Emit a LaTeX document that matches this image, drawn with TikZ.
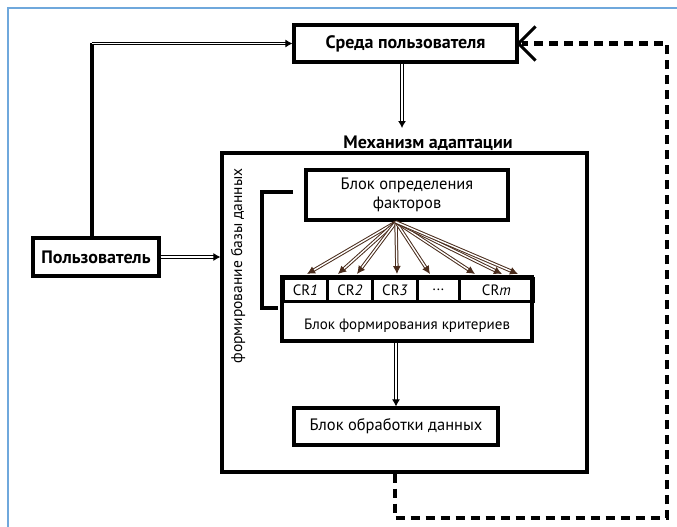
\documentclass[tikz,border=0pt]{standalone}
\usepackage{fontspec}
\setmainfont{PT Sans}
\usetikzlibrary{arrows.meta}
\definecolor{frameblue}{HTML}{6FA8DC}
\definecolor{fanbrown}{HTML}{4A2C1C}
\begin{document}
\begin{tikzpicture}[x=1pt,y=-1pt,
  box/.style={draw,line width=3.2pt,inner sep=0pt,align=center,font=\fontsize{16.5}{19}\selectfont},
  boldbox/.style={box,font=\fontsize{18}{20}\selectfont\bfseries},
  cell/.style={draw,line width=2.8pt,inner sep=0pt,minimum height=23,font=\fontsize{15}{17}\selectfont},
  dblarrow/.style={double,double distance=1.5pt,line width=1pt,-{Latex[length=7pt,width=8pt]}},
  fanarrow/.style={draw=fanbrown,double,double distance=1.4pt,line width=1pt,-{Latex[length=8pt,width=8pt]}},
  thickline/.style={line width=3.2pt},
  feedback/.style={line width=4.5pt,dash pattern=on 9pt off 6pt}]
\useasboundingbox (0,0) rectangle (677,527);
% page frame
\draw[frameblue,line width=1.2pt] (8,527) -- (8,8) -- (677,8);

% boxes
\node[boldbox,minimum width=223,minimum height=37] (env) at (405.5,43.5) {Среда пользователя};
\node[boldbox,minimum width=126,minimum height=38] (user) at (96,257) {Пользователь};
\node[draw,line width=3.2pt,minimum width=365,minimum height=319] (mech) at (404.5,312.5) {};
\node[font=\fontsize{18}{20}\selectfont\bfseries] (mechlabel) at (428,143) {Механизм адаптации};
\node[box,minimum width=202,minimum height=50] (factors) at (407,195) {Блок определения\\факторов};
\node[box,minimum width=250,minimum height=64] (crit) at (407,309) {};
\node[font=\fontsize{15}{17}\selectfont] (critlabel) at (407,326) {Блок формирования критериев};
\node[cell,minimum width=44,anchor=north west] (cr1) at (282,277) {CR\textit{1}};
\node[cell,minimum width=45,anchor=north west] (cr2) at (326,277) {CR\textit{2}};
\node[cell,minimum width=45,anchor=north west] (cr3) at (371,277) {CR\textit{3}};
\node[cell,minimum width=42,anchor=north west] (crd) at (416,277) {...};
\node[cell,minimum width=74,anchor=north west] (crm) at (458,277) {CR\textit{m}};
\node[box,minimum width=204,minimum height=37] (proc) at (396,426.5) {Блок обработки данных};
\node[rotate=90,font=\fontsize{15.5}{17}\selectfont] (dblabel) at (238,266) {формирование базы данных};

% bracket grouping the two blocks
\draw[thickline] (293,192) -- (262,192) -- (262,308) -- (278,308);

% connectors
\coordinate (turn) at (92,43.5);
\draw[thickline] (user.north -| turn) -- (turn);
\draw[dblarrow] (turn) -- (env.west);
\draw[dblarrow] (env.south -| 402,0) -- (402,128);
\draw[dblarrow] (user.east) -- (user.east -| mech.west);
\draw[dblarrow] (crit.south -| 396,0) -- (proc.north -| 396,0);

% fan from the factor block to the criteria
\coordinate (fan) at (396,222);
\foreach \tx in {307,338,357,397,430,475,502,518}
  \draw[fanarrow] (fan) -- (\tx,274);

% feedback loop
\coordinate (fb1) at (395,518);
\coordinate (fb2) at (667,518);
\coordinate (fb3) at (667,43.5);
\draw[feedback] (mech.south -| fb1) -- (fb1) -- (fb2) -- (fb3) -- ([xshift=3pt]env.east);
\draw[line width=3pt] ([shift={(17,-17)}]env.east) -- (env.east) -- ([shift={(17,17)}]env.east);
\end{tikzpicture}
\end{document}
